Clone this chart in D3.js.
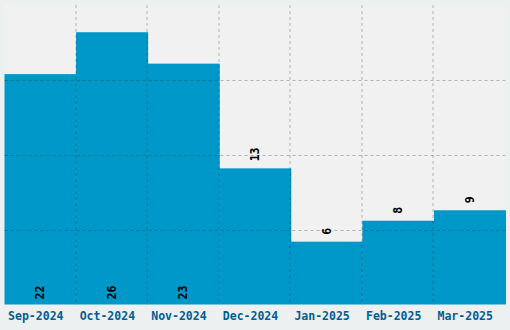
<!DOCTYPE html>
<html>
<head>
<meta charset="utf-8">
<script src="https://cdn.jsdelivr.net/npm/d3@7"></script>
<style>
  body { margin: 0; background: #edf0f0; }
  svg { display: block; }
  .tick text { font-family: "DejaVu Sans Mono", monospace; font-weight: bold; }
</style>
</head>
<body>
<div id="container"></div>
<script>
const months = ["Sep-2024", "Oct-2024", "Nov-2024", "Dec-2024", "Jan-2025", "Feb-2025", "Mar-2025"];
const counts = [22, 26, 23, 13, 6, 8, 9];

const width = 510, height = 330;
const margin = {top: 5, right: 4.5, bottom: 25.5, left: 4.5};
const innerW = width - margin.left - margin.right,
      innerH = height - margin.top - margin.bottom;

const svg = d3.select("#container").append("svg")
    .attr("width", width)
    .attr("height", height);

const g = svg.append("g")
    .attr("transform", `translate(${margin.left},${margin.top})`);

var x = d3.scaleBand()
    .domain(months)
    .range([0, innerW])
    .padding(0);

var yMax = d3.max(counts) * 1.1;
var y = d3.scaleLinear()
    .domain([0, yMax])
    .range([innerH, 0]);

// plot background
g.append("rect")
    .attr("width", innerW)
    .attr("height", innerH)
    .attr("fill", "#f1f1f1");

// bars
g.selectAll(".bar")
    .data(counts)
    .enter()
    .append("rect")
    .attr("class", "bar")
    .attr("x", (d, i) => x(months[i]))
    .attr("width", x.bandwidth() + 0.5)
    .attr("y", d => y(d))
    .attr("height", d => innerH - y(d))
    .attr("fill", "#0098c9");

// grid lines, drawn on top of the bars
var yTicks = d3.range(1, 4).map(k => yMax * k / 4);
g.selectAll(".hgrid")
    .data(yTicks)
    .enter()
    .append("line")
    .attr("x1", 0)
    .attr("x2", innerW)
    .attr("y1", d => Math.round(y(d)) + 0.5)
    .attr("y2", d => Math.round(y(d)) + 0.5)
    .attr("stroke", "rgba(0,0,0,0.25)")
    .attr("stroke-dasharray", "3,3");

g.selectAll(".vgrid")
    .data(months.slice(1))
    .enter()
    .append("line")
    .attr("x1", d => Math.round(x(d)) - 0.5)
    .attr("x2", d => Math.round(x(d)) - 0.5)
    .attr("y1", 0)
    .attr("y2", innerH)
    .attr("stroke", "rgba(0,0,0,0.25)")
    .attr("stroke-dasharray", "3,3");

// x axis
var xAxis = g.append("g")
    .attr("transform", `translate(0,${innerH})`)
    .call(d3.axisBottom(x).tickSize(0).tickPadding(7));

xAxis.select(".domain").remove();
xAxis.selectAll("text")
    .attr("x", -4.5)
    .attr("font-size", "11.5px")
    .attr("fill", "#005e94");

// value labels
g.selectAll(".val")
    .data(counts)
    .enter()
    .append("text")
    .attr("class", "val")
    .attr("font-family", "DejaVu Sans Mono, monospace")
    .attr("font-weight", "bold")
    .attr("font-size", "11.5px")
    .attr("fill", "#000")
    .attr("dy", "0.35em")
    .attr("transform", function(d, i) {
        var cx = x(months[i]) + x.bandwidth() / 2;
        var cy = d > yMax * 0.7 ? innerH - 5 : y(d) - 7;
        return `translate(${cx},${cy}) rotate(-90)`;
    })
    .text(d => d);
</script>
</body>
</html>
